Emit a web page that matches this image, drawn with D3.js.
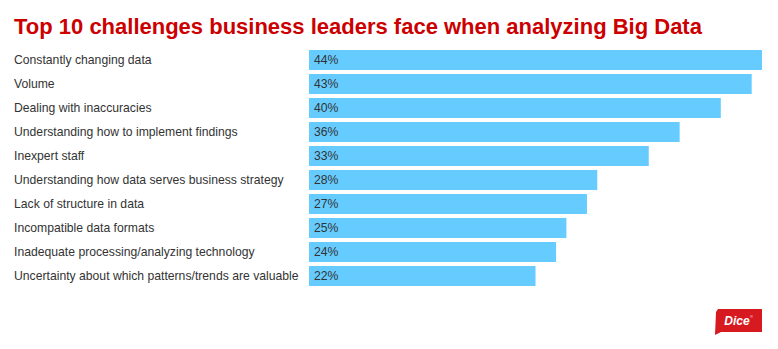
<!DOCTYPE html>
<html><head><meta charset="utf-8">
<script src="https://cdn.jsdelivr.net/npm/d3@7"></script>
<style>body{margin:0;background:#fff;}svg{display:block;}</style>
</head><body>
<script>
const title = "Top 10 challenges business leaders face when analyzing Big Data";
const categories = ["Constantly changing data","Volume","Dealing with inaccuracies","Understanding how to implement findings","Inexpert staff","Understanding how data serves business strategy","Lack of structure in data","Incompatible data formats","Inadequate processing/analyzing technology","Uncertainty about which patterns/trends are valuable"];
const values = [44,43,40,36,33,28,27,25,24,22];

const W = 778, H = 349;
const svg = d3.select("body").append("svg").attr("width", W).attr("height", H);

svg.append("text").attr("x", 14).attr("y", 34)
  .attr("font-family", "Arial, 'Liberation Sans', sans-serif")
  .attr("font-weight", "bold").attr("font-size", 22).attr("fill", "#cc0000")
  .text(title);

const x = d3.scaleLinear().domain([0, 44]).range([309, 762]);
const y = d3.scaleBand().domain(categories).range([50, 286]).paddingInner(4/24).paddingOuter(0).align(0);

const g = svg.append("g");
const rows = g.selectAll("g.row").data(categories).join("g").attr("class","row");
rows.append("rect")
  .attr("x", x(0)).attr("y", d => y(d))
  .attr("width", (d,i) => x(values[i]) - x(0))
  .attr("height", y.bandwidth())
  .attr("fill", "#66ccff");
rows.append("text")
  .attr("x", 14).attr("y", d => y(d) + y.bandwidth()/2)
  .attr("dy", "0.35em")
  .attr("font-family", "Arial, 'Liberation Sans', sans-serif").attr("font-size", 12.2)
  .attr("fill", "#333").text(d => d);
rows.append("text")
  .attr("x", x(0) + 5).attr("y", d => y(d) + y.bandwidth()/2)
  .attr("dy", "0.35em")
  .attr("font-family", "Arial, 'Liberation Sans', sans-serif").attr("font-size", 12.2)
  .attr("fill", "#333").text((d,i) => values[i] + "%");

// Dice logo
const logo = svg.append("g").attr("transform", "translate(715,309)");
logo.append("path")
  .attr("d", "M3,0 L47,0 L47,23 L6,23 L0,26 L1,3 Z")
  .attr("fill", "#d71920");
logo.append("text").attr("x", 22).attr("y", 16)
  .attr("text-anchor", "middle")
  .attr("font-family", "Arial, 'Liberation Sans', sans-serif")
  .attr("font-weight", "bold").attr("font-style", "italic").attr("font-size", 12)
  .attr("fill", "#fff").text("Dice");
logo.append("text").attr("x", 35).attr("y", 9)
  .attr("font-family", "Arial, sans-serif").attr("font-size", 4)
  .attr("fill", "#fff").text("®");
</script>
</body></html>
